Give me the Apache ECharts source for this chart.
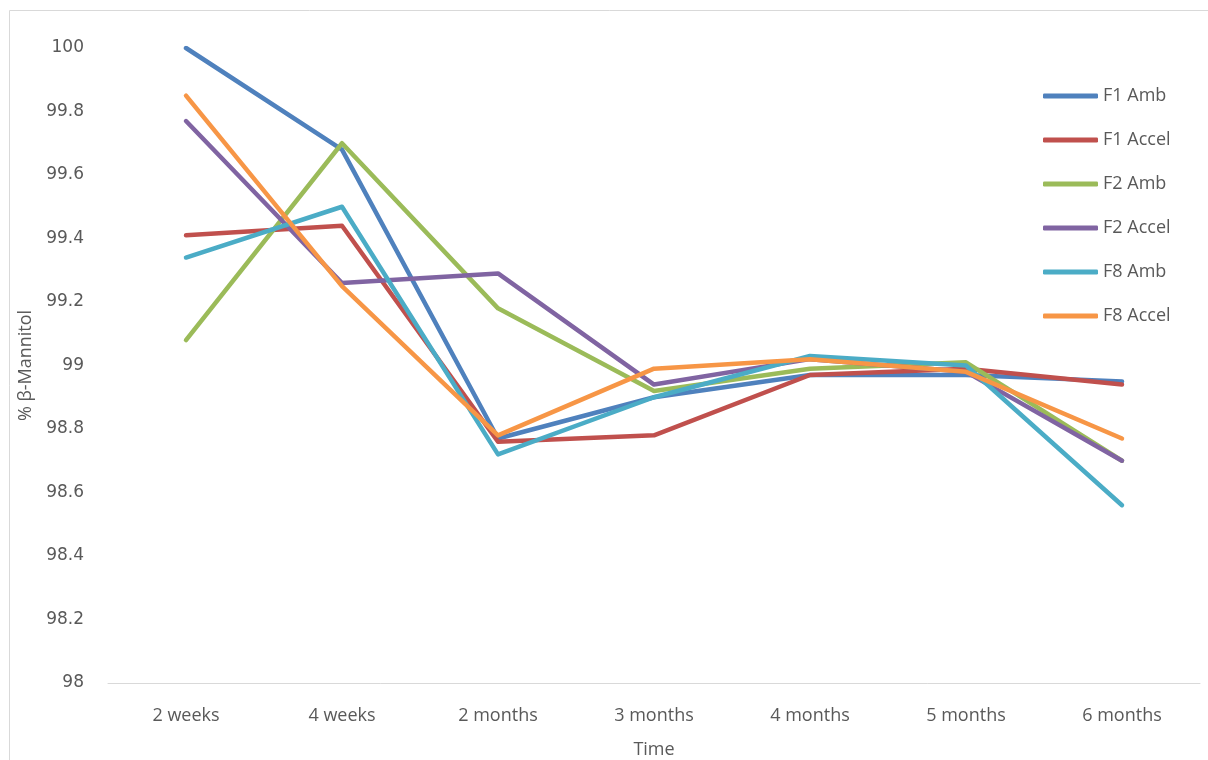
<!DOCTYPE html>
<html>
<head>
<meta charset="utf-8">
<script src="https://cdn.jsdelivr.net/npm/echarts@6/dist/echarts.min.js"></script>
<style>
  html, body { margin: 0; padding: 0; background: #fff; }
  #chart { width: 1208px; height: 760px; }
</style>
</head>
<body>
<div id="chart"></div>
<script>
// Storage time points
const categories = ['2 weeks', '4 weeks', '2 months', '3 months', '4 months', '5 months', '6 months'];

// % β-Mannitol per formulation / storage condition
const f1Amb   = [100.00, 99.68, 98.77, 98.90, 98.97, 98.97, 98.95];
const f1Accel = [99.41, 99.44, 98.76, 98.78, 98.97, 98.99, 98.94];
const f2Amb   = [99.08, 99.70, 99.18, 98.92, 98.99, 99.01, 98.70];
const f2Accel = [99.77, 99.26, 99.29, 98.94, 99.02, 98.98, 98.70];
const f8Amb   = [99.34, 99.50, 98.72, 98.90, 99.03, 99.00, 98.56];
const f8Accel = [99.85, 99.25, 98.78, 98.99, 99.02, 98.98, 98.77];

const seriesNames = ['F1 Amb', 'F1 Accel', 'F2 Amb', 'F2 Accel', 'F8 Amb', 'F8 Accel'];
const seriesData = [f1Amb, f1Accel, f2Amb, f2Accel, f8Amb, f8Accel];
const colors = ['#4f81bd', '#c0504d', '#9bbb59', '#8064a2', '#4bacc6', '#f79646'];

const textColor = '#595959';
const chart = echarts.init(document.getElementById('chart'));

chart.setOption({
  animation: false,
  color: colors,
  graphic: [{
    type: 'rect',
    shape: { x: 9.5, y: 10.5, width: 1220, height: 780 },
    style: { fill: 'none', stroke: '#d9d9d9', lineWidth: 1 },
    silent: true
  }],
  grid: { left: 108, right: 8, top: 48, bottom: 77, outerBoundsMode: 'none' },
  legend: {
    orient: 'vertical',
    left: 1043,
    top: 86,
    padding: 0,
    icon: 'roundRect',
    itemWidth: 55,
    itemHeight: 5,
    itemGap: 24,
    textStyle: { color: textColor, fontSize: 18, fontFamily: 'Open Sans', lineHeight: 20 },
    data: seriesNames
  },
  xAxis: {
    type: 'category',
    data: categories,
    boundaryGap: true,
    axisLine: { show: true, lineStyle: { color: '#d9d9d9', width: 1 } },
    axisTick: { show: false },
    axisLabel: { color: textColor, fontSize: 18, fontFamily: 'Open Sans', margin: 24 },
    name: 'Time',
    nameLocation: 'middle',
    nameGap: 58,
    nameTextStyle: { color: textColor, fontSize: 18, fontFamily: 'Open Sans' }
  },
  yAxis: {
    type: 'value',
    min: 98,
    max: 100,
    interval: 0.2,
    axisLine: { show: false },
    axisTick: { show: false },
    splitLine: { show: false },
    axisLabel: { color: textColor, fontSize: 17, fontFamily: 'DejaVu Sans', margin: 24, padding: [6, 0, 0, 0] },
    name: '% β-Mannitol',
    nameLocation: 'middle',
    nameGap: 72,
    nameTextStyle: { color: textColor, fontSize: 18, fontFamily: 'Open Sans' }
  },
  series: seriesNames.map((name, i) => ({
    name: name,
    type: 'line',
    data: seriesData[i],
    showSymbol: false,
    symbol: 'none',
    lineStyle: { width: 4.5, color: colors[i], cap: 'round', join: 'round' },
    itemStyle: { color: colors[i] }
  }))
});
</script>
</body>
</html>
